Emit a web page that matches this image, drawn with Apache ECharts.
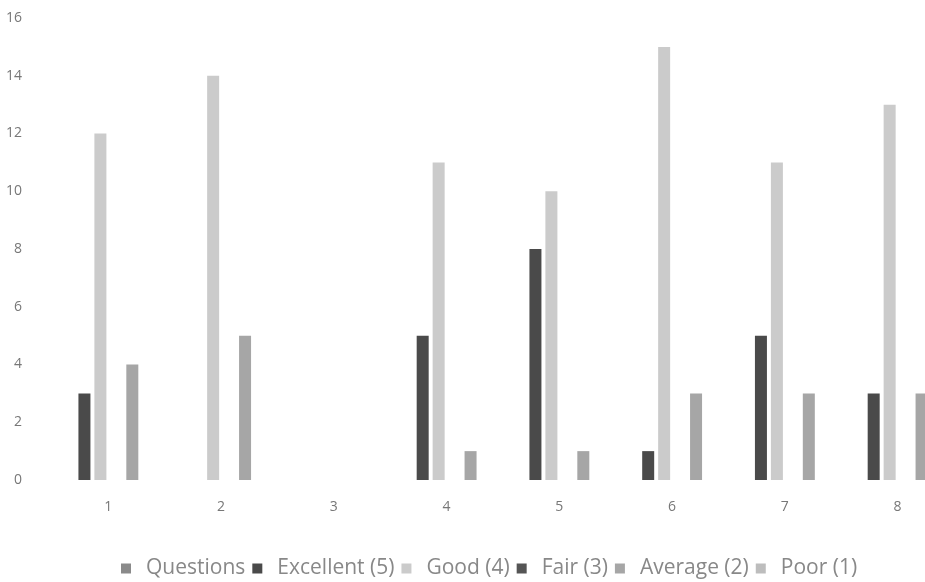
<!DOCTYPE html>
<html><head><meta charset="utf-8">
<script src="https://cdn.jsdelivr.net/npm/echarts@6/dist/echarts.min.js"></script>
<style>html,body{margin:0;padding:0;background:#fff}#c{width:925px;height:582px}</style>
</head><body><div id="c"></div>
<script>
const categories = ['1','2','3','4','5','6','7','8'];
const questions = [0,0,0,0,0,0,0,0];
const excellent = [3,0,0,5,8,1,5,3];
const good = [12,14,0,11,10,15,11,13];
const fair = [0,0,0,0,0,0,0,0];
const average = [4,5,0,1,1,3,3,3];
const poor = [0,0,0,0,0,0,0,0];
const yTicks = [0,2,4,6,8,10,12,14,16];

const names = ['Questions','Excellent (5)','Good (4)','Fair (3)','Average (2)','Poor (1)'];
const colors = ['#8a8a8a','#4a4a4a','#cbcbcb','#555555','#a6a6a6','#bdbdbd'];
const datasets = [questions, excellent, good, fair, average, poor];

const chart = echarts.init(document.getElementById('c'));
chart.setOption({
  animation:false,
  backgroundColor:'#fff',
  grid:{left:52,width:902,top:18,bottom:102,containLabel:false,outerBoundsMode:'none'},
  legend:{bottom:-2,left:116,icon:'rect',itemWidth:10,itemHeight:10,itemGap:7,
    textStyle:{color:'#888',fontFamily:'Open Sans',fontSize:21,padding:[0,0,0,10]},
    data:names.map((n,i)=>({name:n,itemStyle:{color:colors[i]}}))},
  xAxis:{type:'category',data:categories,
    axisLine:{show:false},axisTick:{show:false},
    axisLabel:{color:'#777',fontFamily:'Open Sans',fontSize:14,margin:20}},
  yAxis:{type:'value',min:yTicks[0],max:yTicks[yTicks.length-1],interval:2,
    splitLine:{show:false},axisLine:{show:false},axisTick:{show:false},
    axisLabel:{color:'#777',fontFamily:'Open Sans',fontSize:14,margin:30}},
  series:datasets.map((d,i)=>({name:names[i],type:'bar',data:d,
    barWidth:12,barGap:'33%',itemStyle:{color:colors[i]}}))
});
</script></body></html>
